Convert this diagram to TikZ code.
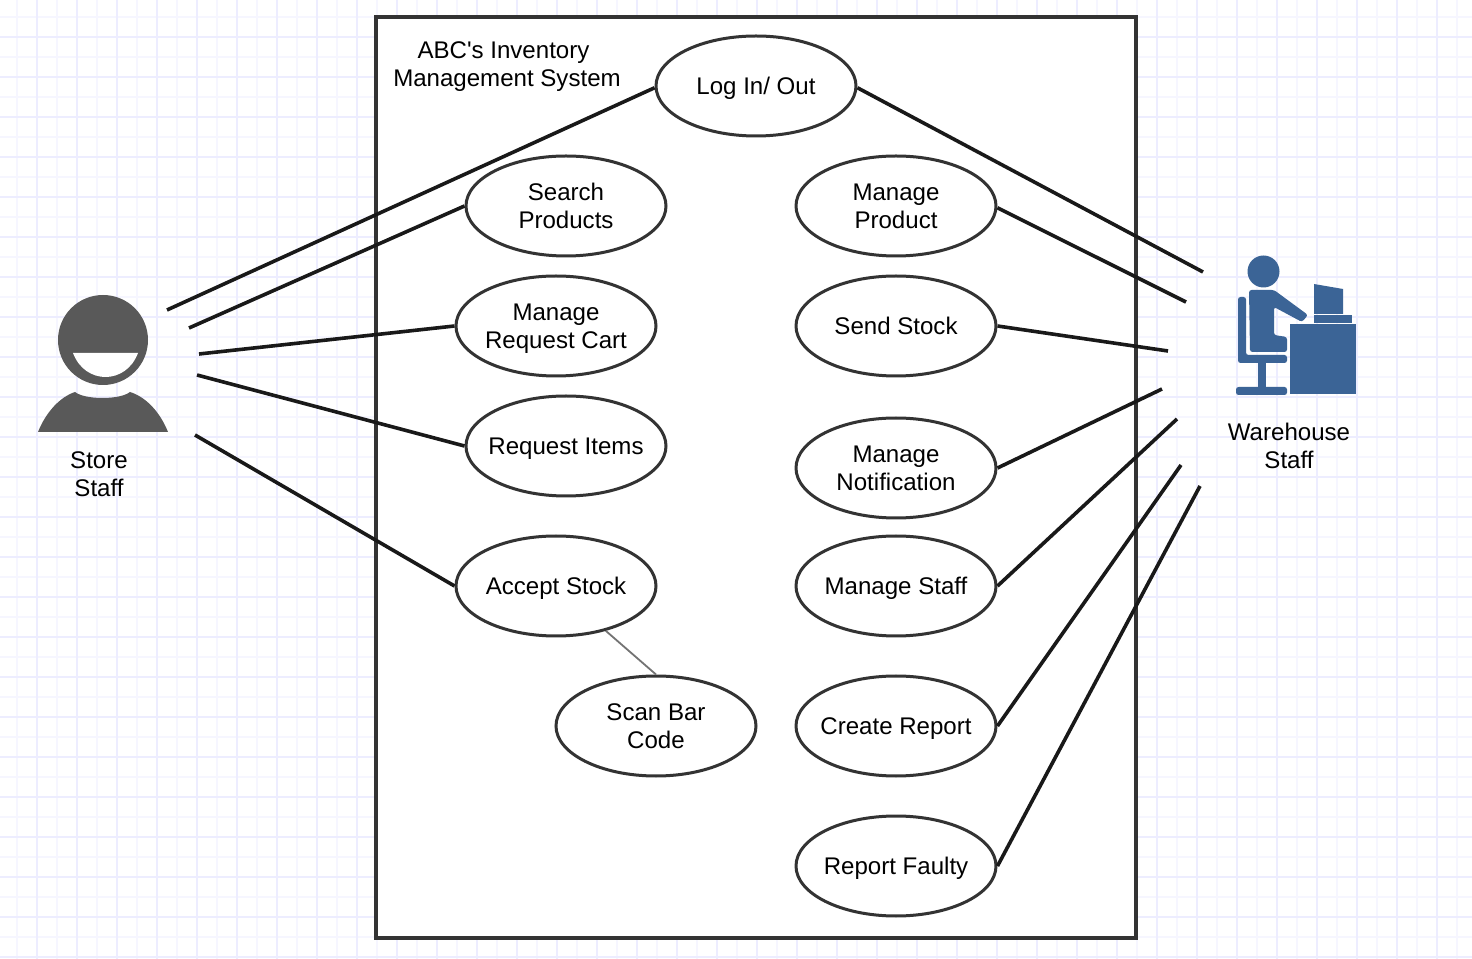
\documentclass[tikz,border=0pt]{standalone}
\usepackage{fontspec}
\setmainfont{Liberation Sans}[Ligatures=TeXOff]
\usetikzlibrary{shapes.geometric}
\definecolor{gridminor}{HTML}{F6F6FF}
\definecolor{gridmajor}{HTML}{EDEDFF}
\definecolor{storegray}{HTML}{595959}
\definecolor{deskblue}{HTML}{3B6496}
\definecolor{boxdark}{HTML}{333333}
\newcommand{\linerule}{\rule[-.05cm]{0pt}{.27cm}}
\tikzset{
	usecase/.style={ellipse,draw=boxdark,line width=.03cm,fill=white,minimum width=2cm,minimum height=1cm,inner xsep=-.12cm,inner ysep=0pt,align=center,font=\fontsize{6.85}{8}\selectfont},
	caption/.style={align=center,inner sep=0pt,font=\fontsize{6.85}{8}\selectfont},
	assoc/.style={line width=.036cm,black!90},
	deskpart/.style={fill=deskblue,rounded corners=.025cm}
}

\begin{document}
\begin{tikzpicture}
	\useasboundingbox (0,0) rectangle (14.72,9.58);
	
	%background grid
	\fill[white] (0,0) rectangle (14.72,9.58);
	\begin{scope}[xshift=-.03cm,yshift=.01cm]
		\clip (.03,-.01) rectangle (14.75,9.57);
		\draw[gridminor,line width=.015cm,step=.2] (0,-.2) grid (15,10);
		\draw[gridmajor,line width=.02cm,step=.4] (0,-.4) grid (15,10);
	\end{scope}
	
	%system boundary
	\draw[boxdark,line width=.032cm,fill=white] (3.76,.2) rectangle (11.36,9.41);
	\node[caption] (title) at (5.07,8.91) {ABC's Inventory\hspace*{.07cm}\\Management System};
	
	%free line ends, store staff
	\coordinate (s1) at (1.67,6.48);
	\coordinate (s2) at (1.89,6.30);
	\coordinate (s3) at (1.99,6.04);
	\coordinate (s4) at (1.97,5.83);
	\coordinate (s5) at (1.95,5.23);
	%free line ends, warehouse staff
	\coordinate (w1) at (12.03,6.86);
	\coordinate (w2) at (11.86,6.56);
	\coordinate (w3) at (11.68,6.07);
	\coordinate (w4) at (11.62,5.69);
	\coordinate (w5) at (11.77,5.39);
	\coordinate (w6) at (11.81,4.93);
	\coordinate (w7) at (12.00,4.72);
	
	%use cases
	\node[usecase] (login) at (7.56,8.72) {\linerule Log In/ Out};
	\node[usecase] (search) at (5.66,7.52) {\linerule Search\\Products\linerule};
	\node[usecase] (reqcart) at (5.56,6.32) {\linerule Manage\\Request Cart\linerule};
	\node[usecase] (reqitems) at (5.66,5.12) {\linerule Request Items};
	\node[usecase] (accept) at (5.56,3.72) {\linerule Accept Stock};
	\node[usecase] (scan) at (6.56,2.32) {\linerule Scan Bar\\Code\linerule};
	\node[usecase] (mgproduct) at (8.96,7.52) {\linerule Manage\\Product\linerule};
	\node[usecase] (sendstock) at (8.96,6.32) {\linerule Send Stock};
	\node[usecase] (mgnotif) at (8.96,4.90) {\linerule Manage\\Notification\linerule};
	\node[usecase] (mgstaff) at (8.96,3.72) {\linerule Manage Staff};
	\node[usecase] (report) at (8.96,2.32) {\linerule Create Report};
	\node[usecase] (faulty) at (8.96,.92) {\linerule Report Faulty};
	
	%associations, store staff
	\draw[assoc] (s1)--(login.181);
	\draw[assoc] (s2)--(search.west);
	\draw[assoc] (s3)--(reqcart.west);
	\draw[assoc] (s4)--(reqitems.west);
	\draw[assoc] (s5)--(accept.west);
	%associations, warehouse staff
	\draw[assoc] (login.-1)--(w1);
	\draw[assoc] (mgproduct.-1)--(w2);
	\draw[assoc] (sendstock.east)--(w3);
	\draw[assoc] (mgnotif.east)--(w4);
	\draw[assoc] (mgstaff.east)--(w5);
	\draw[assoc] (report.east)--(w6);
	\draw[assoc] (faulty.east)--(w7);
	%include
	\draw[black!55,line width=.018cm] (accept.-42)--(scan.north);
	
	%store staff icon
	\fill[storegray] (1.03,6.18) circle (.45);
	\fill[white] (.73,6.05)--(1.38,6.05) .. controls (1.26,5.73) and (.85,5.73) .. (.73,6.05);
	\fill[storegray] (.38,5.26) .. controls (.46,5.46) and (.60,5.61) .. (.75,5.66)
		.. controls (.85,5.58) and (1.20,5.58) .. (1.30,5.66)
		.. controls (1.46,5.61) and (1.60,5.46) .. (1.68,5.26)--cycle;
	\node[caption] (storelabel) at (.99,4.84) {Store\\Staff};
	
	%warehouse staff icon
	\fill[deskblue] (12.635,6.865) circle (.16);
	\fill[deskpart] (12.38,6.61)--(12.46,6.61)--(12.46,6.03)--(12.87,6.03)--(12.87,5.95)--(12.38,5.95)--cycle; %chair
	\fill[deskblue] (12.58,5.95) rectangle (12.66,5.71);
	\fill[deskpart] (12.36,5.63) rectangle (12.87,5.71);
	\fill[deskpart] (12.49,6.68)--(12.74,6.68)--(13.08,6.43)--(13.02,6.36)--(12.74,6.51)--(12.74,6.23)--(12.87,6.21)--(12.87,6.06)--(12.50,6.06)--cycle; %person
	\fill[deskblue] (12.90,5.64) rectangle (13.56,6.34); %desk
	\fill[deskblue] (13.14,6.35) rectangle (13.52,6.43);
	\fill[deskblue] (13.14,6.74)--(13.43,6.69)--(13.43,6.44)--(13.14,6.44)--cycle; %screen
	\node[caption] (warehouselabel) at (12.89,5.12) {Warehouse\\Staff};
\end{tikzpicture}
\end{document}
